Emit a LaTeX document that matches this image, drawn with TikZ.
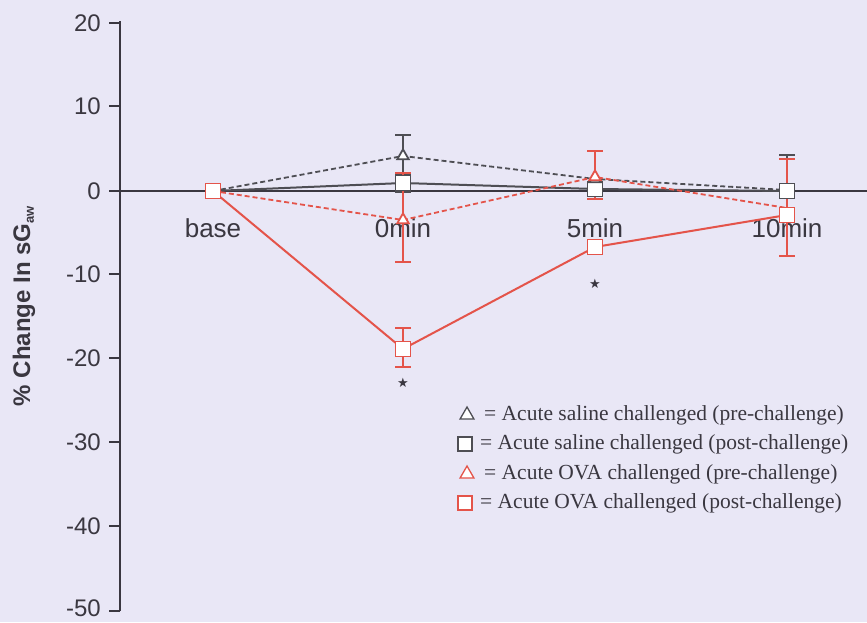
\documentclass[tikz,border=0pt]{standalone}
\usepackage{fontspec}
\usetikzlibrary{shapes.geometric}
\setmainfont{Liberation Serif}
\setsansfont{Liberation Sans}
\newfontfamily\symfont{DejaVu Sans}
\definecolor{bg}{RGB}{233,231,246}
\definecolor{axc}{RGB}{58,55,64}
\definecolor{dgray}{RGB}{78,78,84}
\definecolor{ored}{RGB}{228,84,74}
\begin{document}
\begin{tikzpicture}[x=1pt,y=-1pt,
  axis/.style={draw=axc,line width=2.2pt},
  tick/.style={font=\sffamily\fontsize{24}{24}\selectfont,text=axc,anchor=east,inner sep=0pt},
  cat/.style={font=\sffamily\fontsize{26}{26}\selectfont,text=axc,inner sep=0pt},
  tri/.style={draw=#1,fill=white,line width=1.8pt,isosceles triangle,isosceles triangle apex angle=60,shape border rotate=90,minimum height=10pt,inner sep=0pt},
  sqr/.style={draw=#1,fill=white,line width=1.8pt,rectangle,minimum size=15pt,inner sep=0pt},
  errb/.style={draw=#1,line width=1.8pt},
  dashline/.style={draw=#1,line width=1.8pt,dash pattern=on 5pt off 3pt},
  solidline/.style={draw=#1,line width=2pt},
  leg/.style={font=\fontsize{21.5}{21.5}\selectfont,text=axc,anchor=west,inner sep=0pt},
  star/.style={font=\symfont\fontsize{13}{13}\selectfont,text=axc,inner sep=0pt}
]
\useasboundingbox (0,0) rectangle (867,622);
\fill[bg] (0,0) rectangle (867,622);
% axes
\coordinate (ytop) at (120,21);
\coordinate (ybot) at (120,611);
\coordinate (x0l) at (120,191);
\coordinate (x0r) at (867,191);
\draw[axis] (ytop) -- (ybot);
\draw[axis] (x0l) -- (x0r);
\foreach \v/\yy/\ly in {20/23/23,10/106/106,0/191/191,-10/274/274,-20/358/358,-30/442/442,-40/526/526,-50/611/608}{
  \coordinate (t\v) at (120,\yy);
  \draw[axis] (t\v) -- ++(-11,0);
  \node[tick] at (101,\ly) {\v};
}
\node[font=\sffamily\bfseries\fontsize{24}{24}\selectfont,text=axc,rotate=90] (ylab) at (24,306) {\% Change In sG\textsubscript{\fontsize{13}{13}\selectfont aw}};
% category labels
\node[cat] (cb) at (213,228) {base};
\node[cat] (c0) at (403,228) {0min};
\node[cat] (c5) at (595,228) {5min};
\node[cat] (c10) at (787,228) {10min};
% error bars
\foreach \xx/\ya/\yb/\c in {403/135/177/dgray, 403/174/192/dgray, 787/155/191/dgray,
   403/173/262/ored, 403/328/367/ored, 595/151/199/ored, 787/159/256/ored}{
  \coordinate (ea) at (\xx,\ya);
  \coordinate (eb) at (\xx,\yb);
  \draw[errb=\c] (ea) -- (eb);
  \draw[errb=\c] ([xshift=-8pt]ea) -- ([xshift=8pt]ea);
  \draw[errb=\c] ([xshift=-8pt]eb) -- ([xshift=8pt]eb);
}
% data coordinates
\coordinate (spb) at (213,191); \coordinate (sp0) at (403,156); \coordinate (sp5) at (595,179); \coordinate (sp10) at (787,190);
\coordinate (sqb) at (213,191); \coordinate (sq0) at (403,183); \coordinate (sq5) at (595,189); \coordinate (sq10) at (787,191);
\coordinate (opb) at (213,191); \coordinate (op0) at (403,220); \coordinate (op5) at (595,177); \coordinate (op10) at (787,208);
\coordinate (oqb) at (213,191); \coordinate (oq0) at (403,349); \coordinate (oq5) at (595,247); \coordinate (oq10) at (787,215);
% lines
\draw[solidline=dgray] (sqb) -- (sq0) -- (sq5) -- (sq10);
\draw[dashline=dgray] (spb) -- (sp0) -- (sp5) -- (sp10);
\draw[dashline=ored] (opb) -- (op0) -- (op5) -- (op10);
\draw[solidline=ored] (oqb) -- (oq0) -- (oq5) -- (oq10);
% markers
\node[sqr=dgray] (msq0) at (sq0) {};
\node[sqr=dgray] (msq5) at (sq5) {};
\node[sqr=dgray] (msq10) at (sq10) {};
\node[tri=dgray] (msp0) at (sp0) {};
\node[tri=dgray] (msp5) at (sp5) {};
\node[tri=ored] (mop0) at (op0) {};
\node[tri=ored] (mop5) at (op5) {};
\node[sqr=ored] (moqb) at (oqb) {};
\node[sqr=ored] (moq0) at (oq0) {};
\node[sqr=ored] (moq5) at (oq5) {};
\node[sqr=ored] (moq10) at (oq10) {};
% stars
\node[star] (s1) at (403,383) {★};
\node[star] (s2) at (595,284) {★};
% legend
\node[tri=dgray,line width=1.3pt,minimum height=12pt] (l1) at (467,415) {};
\node[sqr=dgray,line width=1.3pt,minimum size=14pt] (l2) at (465,444) {};
\node[tri=ored,line width=1.3pt,minimum height=12pt] (l3) at (467,474) {};
\node[sqr=ored,line width=1.3pt,minimum size=14pt] (l4) at (465,503) {};
\node[leg] (t1) at (484,415) {= Acute saline challenged (pre-challenge)};
\node[leg] (t2) at (480,444) {= Acute saline challenged (post-challenge)};
\node[leg] (t3) at (484,474) {= Acute OVA challenged (pre-challenge)};
\node[leg] (t4) at (480,503) {= Acute OVA challenged (post-challenge)};
\end{tikzpicture}
\end{document}
